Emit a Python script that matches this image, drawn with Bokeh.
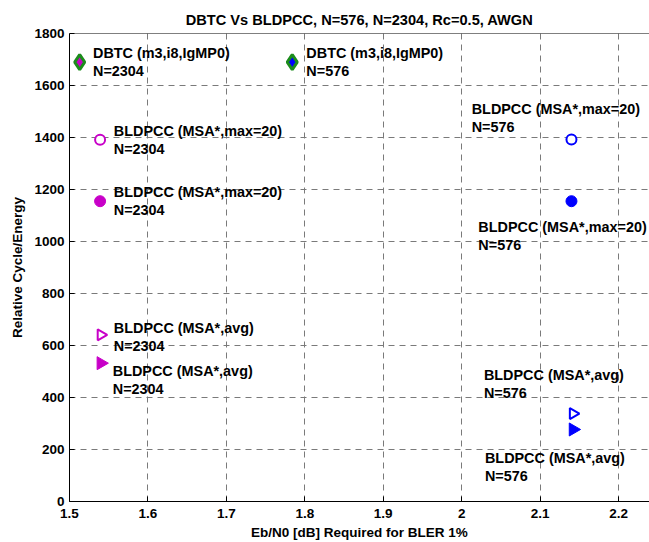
from bokeh.plotting import figure
from bokeh.models import FixedTicker, Range1d, Span
from bokeh.core.properties import value
from bokeh.embed import file_html
from bokeh.resources import INLINE
import math

# ---- data -------------------------------------------------------------
# Eb/N0 [dB] required for BLER 1% and relative cycle/energy per decoder
dbtc_x = [1.513, 1.784]
dbtc_y = [1690, 1690]

msa_max_open_x = [1.539, 2.140]
msa_max_open_y = [1391, 1392]
msa_max_fill_x = [1.539, 2.140]
msa_max_fill_y = [1155, 1155]

msa_avg_open_x = [1.540, 2.142]
msa_avg_open_y = [641, 338]
msa_avg_fill_x = [1.540, 2.142]
msa_avg_fill_y = [532, 277]

x_ticks = [1.5, 1.6, 1.7, 1.8, 1.9, 2.0, 2.1, 2.2]
y_ticks = [0, 200, 400, 600, 800, 1000, 1200, 1400, 1600, 1800]

# annotation text (first line, second line) and anchor in data units
label_line1 = ["DBTC (m3,i8,IgMP0)", "DBTC (m3,i8,IgMP0)",
               "BLDPCC (MSA*,max=20)", "BLDPCC (MSA*,max=20)",
               "BLDPCC (MSA*,max=20)", "BLDPCC (MSA*,max=20)",
               "BLDPCC (MSA*,avg)", "BLDPCC (MSA*,avg)",
               "BLDPCC (MSA*,avg)", "BLDPCC (MSA*,avg)"]
label_line2 = ["N=2304", "N=576",
               "N=2304", "N=2304",
               "N=576", "N=576",
               "N=2304", "N=2304",
               "N=576", "N=576"]
label_x = [1.530, 1.802, 1.5565, 1.5565, 2.0128, 2.0213,
           1.5565, 1.5552, 2.0284, 2.0297]
label_y = [1724, 1724, 1424, 1192, 1510, 1055, 666, 501, 487, 168]

MAGENTA = "#c800c8"
BLUE = "#0000ff"
GREEN = "#1c8c1c"
FONT = "Liberation Sans"

p = figure(width=649, height=542, output_backend="svg", toolbar_location=None,
           x_range=Range1d(1.5, 2.2395), y_range=Range1d(0, 1800),
           title="DBTC Vs BLDPCC, N=576, N=2304, Rc=0.5, AWGN",
           min_border_left=69, min_border_right=0, min_border_top=33,
           min_border_bottom=41)
p.background_fill_color = "white"
p.border_fill_color = "white"
p.outline_line_color = None

p.title.text_font = FONT
p.title.text_font_size = "14.6px"
p.title.text_font_style = "bold"
p.title.align = "center"
p.title.offset = 6
p.title.standoff = 11
p.title.text_color = "black"

# axes: ticks pointing inward
for ax in (p.xaxis[0], p.yaxis[0]):
    ax.major_tick_in = 5
    ax.major_tick_out = 0
    ax.minor_tick_line_color = None
    ax.axis_line_color = "black"
    ax.major_tick_line_color = "black"
    ax.major_label_text_font = FONT
    ax.major_label_text_font_style = "bold"
    ax.major_label_text_font_size = "13.5px"
    ax.major_label_text_color = "black"
    ax.axis_label_text_font = FONT
    ax.axis_label_text_font_style = "bold"
    ax.axis_label_text_font_size = "13.5px"
    ax.axis_label_text_color = "black"

p.xaxis[0].ticker = FixedTicker(ticks=x_ticks)
p.xaxis[0].major_label_overrides = {t: ("2" if t == 2.0 else f"{t:.1f}") for t in x_ticks}
p.xaxis[0].axis_label = "Eb/N0 [dB] Required for BLER 1%"
p.xaxis[0].major_label_standoff = 7
p.xaxis[0].axis_label_standoff = 4

p.yaxis[0].ticker = FixedTicker(ticks=y_ticks)
p.yaxis[0].axis_label = "Relative Cycle/Energy"
p.yaxis[0].major_label_standoff = 5
p.yaxis[0].axis_label_standoff = 6

p.grid.grid_line_color = "#7a7a7a"
p.grid.grid_line_dash = "6 5"
p.grid.grid_line_width = 1

# solid top edge of the axes box
p.add_layout(Span(location=1800, dimension="width", line_color="black",
                  line_width=1))

# DBTC: green diamond with coloured centre
p.scatter(dbtc_x, dbtc_y, marker="diamond", size=15, line_color=GREEN,
          line_width=3, fill_color=[MAGENTA, BLUE])

# BLDPCC, max=20 iterations
p.scatter(msa_max_open_x, msa_max_open_y, marker="circle", size=10,
          line_color=[MAGENTA, BLUE], line_width=2, fill_color="white")
p.scatter(msa_max_fill_x, msa_max_fill_y, marker="circle", size=11,
          line_color=[MAGENTA, BLUE], fill_color=[MAGENTA, BLUE])

# BLDPCC, average iterations (right-pointing triangles)
p.scatter(msa_avg_open_x, msa_avg_open_y, marker="triangle", size=11,
          angle=-math.pi / 2, line_color=[MAGENTA, BLUE], line_width=2,
          fill_color="white")
p.scatter(msa_avg_fill_x, msa_avg_fill_y, marker="triangle", size=13,
          angle=-math.pi / 2, line_color=[MAGENTA, BLUE],
          fill_color=[MAGENTA, BLUE])

# annotations
common = dict(text_font=value(FONT), text_font_style="bold",
              text_font_size="14.4px", text_color="black",
              text_baseline="middle", text_align="left")
p.text(label_x, label_y, text=label_line1, **common)
p.text(label_x, label_y, text=label_line2, y_offset=18, **common)

open("out.html", "w").write(file_html(p, INLINE))
